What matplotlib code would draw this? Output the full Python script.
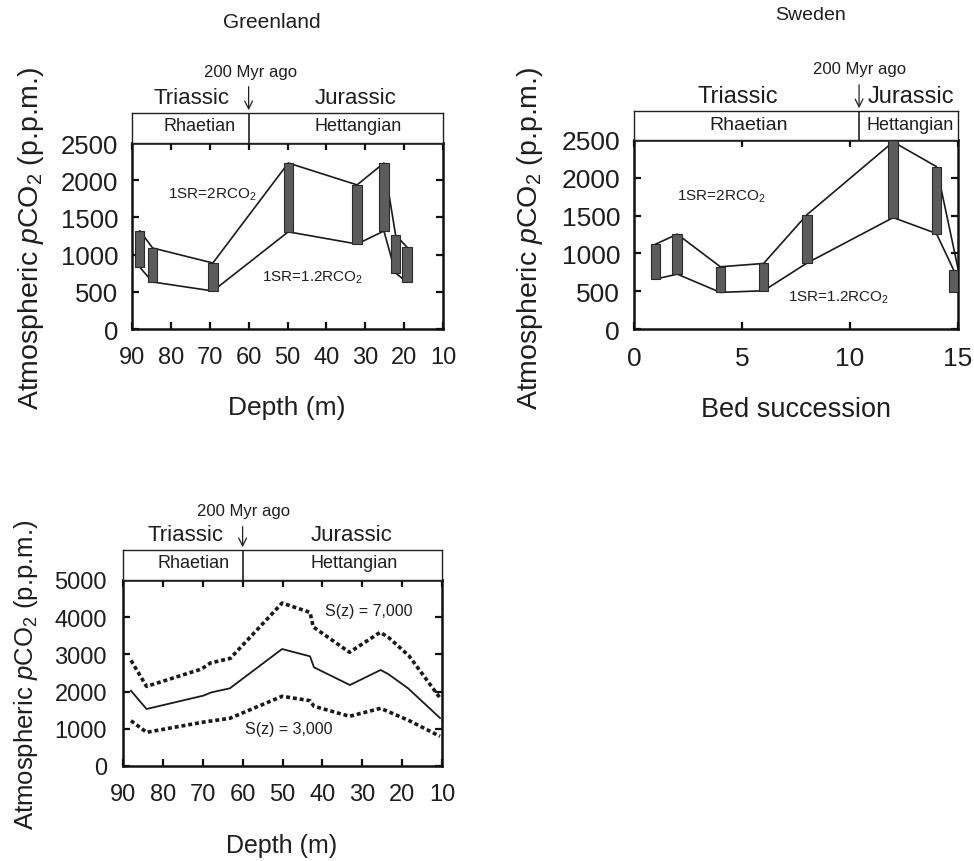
import matplotlib
matplotlib.use("Agg")
import matplotlib.pyplot as plt

plt.rcParams['font.family'] = ['Liberation Sans', 'DejaVu Sans']
plt.rcParams['mathtext.fontset'] = 'custom'
plt.rcParams['mathtext.rm'] = 'Liberation Sans'
plt.rcParams['mathtext.it'] = 'Liberation Sans:italic'

# ---------------- data ----------------
# Greenland: bars (range of pCO2 estimates) at depth
gl_x = [88, 84.7, 69.2, 49.8, 32.1, 25.2, 22.2, 19.3]
gl_top = [1320, 1089, 887, 2231, 1937, 2231, 1263, 1102]
gl_bot = [830, 632, 511, 1306, 1142, 1317, 753, 632]

# Sweden: bars at bed succession
sw_x = [1, 2, 4, 6, 8, 12, 14, 14.8]
sw_top = [1122, 1254, 823, 867, 1510, 2500, 2148, 780]
sw_bot = [660, 726, 484, 506, 871, 1474, 1263, 489]
sw_upper_x = [1, 2, 4, 6, 8, 12, 14, 15]
sw_upper_y = [1122, 1254, 823, 867, 1510, 2475, 2148, 800]
sw_lower_x = [1, 2, 4, 6, 8, 12, 14, 14.8]
sw_lower_y = [660, 726, 484, 506, 871, 1474, 1263, 780]

# Greenland model curves
mid_x = [88, 84.1, 69.9, 67.8, 63.2, 50.1, 43.1, 42.1, 33.1, 25.4, 23.5, 18.5, 10.5]
mid_y = [2024, 1532, 1890, 1980, 2088, 3145, 2948, 2652, 2177, 2581, 2473, 2088, 1290]
hi_x = [88, 84.1, 70.3, 68.1, 63.1, 50.1, 43.1, 42.3, 33.2, 25.5, 23.4, 18.3, 10.5]
hi_y = [2840, 2140, 2607, 2768, 2893, 4380, 4130, 3740, 3056, 3594, 3455, 2964, 1830]
lo_x = [88, 84.1, 69.9, 63.2, 50.1, 43.1, 42.1, 33.2, 25.4, 23.5, 18.3, 10.5]
lo_y = [1218, 906, 1179, 1282, 1874, 1756, 1605, 1336, 1551, 1464, 1223, 798]

depth_ticks = [90, 80, 70, 60, 50, 40, 30, 20, 10]
bed_ticks = [0, 5, 10, 15]

# ---------------- layout helpers ----------------
W, H = 974, 862
fig = plt.figure(figsize=(W / 100, H / 100), dpi=100)


def box(l, t, r, b):
    return [l / W, 1 - b / H, (r - l) / W, (b - t) / H]


TXT = '#1e1e1e'
BAR = '#5c5c5c'


def style_main(ax, xs, ys, xl, yl, xsize, ysize, ypad):
    ax.set_xlim(*xl)
    ax.set_ylim(*yl)
    ax.set_xticks(xs)
    ax.set_yticks(ys)
    for s in ax.spines.values():
        s.set_linewidth(1.8)
        s.set_color('#111')
    ax.tick_params(direction='in', top=True, right=True, length=5, width=1.6,
                   colors='#111')
    ax.tick_params(axis='x', labelsize=xsize, pad=12, labelcolor=TXT)
    ax.tick_params(axis='y', labelsize=ysize, pad=ypad, labelcolor=TXT)


def header(rect, xl, split, periods, stages, arrow_x, ty, sy, my, ay,
           psize, ssizes, msize):
    hx = fig.add_axes(rect)
    hx.set_xlim(*xl)
    hx.set_ylim(0, 1)
    hx.set_xticks([])
    hx.set_yticks([])
    for s in hx.spines.values():
        s.set_linewidth(1.0)
        s.set_color('#222')
    hx.axvline(split, color='#222', lw=1.2)
    for (lab, x) in periods:
        hx.text(x, ty, lab, ha='center', va='center', fontsize=psize,
                color=TXT, clip_on=False)
    for (lab, x), fs in zip(stages, ssizes):
        hx.text(x, sy, lab, ha='center', va='center', fontsize=fs, color=TXT)
    hx.text(arrow_x, my, '200 Myr ago', ha='center', va='center',
            fontsize=msize, color=TXT, clip_on=False)
    hx.annotate('', xy=(split, 1.0), xytext=(split, ay),
                arrowprops=dict(arrowstyle='->', lw=0.9, color='#222',
                                mutation_scale=14),
                annotation_clip=False)
    return hx


def pxtext(x, y, s, size, rot=0):
    fig.text(x / W, 1 - y / H, s, ha='center', va='center', fontsize=size,
             rotation=rot, color=TXT)


YLAB = 'Atmospheric $p$CO$_2$ (p.p.m.)'

# ---------------- Panel 1: Greenland ----------------
ax1 = fig.add_axes(box(132, 144, 443, 330))
ax1.plot(gl_x, gl_top, color='#1a1a1a', lw=1.2, zorder=2)
ax1.plot(gl_x, gl_bot, color='#1a1a1a', lw=1.2, zorder=2)
ax1.bar(gl_x, [t - b for t, b in zip(gl_top, gl_bot)], bottom=gl_bot,
        width=2.4, color=BAR, edgecolor='#2a2a2a', lw=0.8, zorder=3)
style_main(ax1, depth_ticks, range(0, 2501, 500), (90, 10), (0, 2500),
           17, 18.5, 10)
ax1.text(80.7, 1815, '1SR=2RCO$_2$', fontsize=11, color=TXT, va='center')
ax1.text(56.6, 699, '1SR=1.2RCO$_2$', fontsize=11, color=TXT, va='center')
header(box(132, 114, 443, 144), (90, 10), 60,
       [('Triassic', 74.8), ('Jurassic', 32.4)],
       [('Rhaetian', 72.5), ('Hettangian', 31.9)],
       59.6, 1.5, 0.57, 2.37, 1.97, 16, [13, 13], 12)
pxtext(272, 23, 'Greenland', 15)
pxtext(287, 408, 'Depth (m)', 19)
pxtext(31, 238, YLAB, 20.5, rot=90)

# ---------------- Panel 2: Sweden ----------------
ax2 = fig.add_axes(box(634, 141, 958, 330))
ax2.plot(sw_upper_x, sw_upper_y, color='#1a1a1a', lw=1.2, zorder=2,
         clip_on=False)
ax2.plot(sw_lower_x, sw_lower_y, color='#1a1a1a', lw=1.2, zorder=2)
ax2.bar(sw_x, [t - b for t, b in zip(sw_top, sw_bot)], bottom=sw_bot,
        width=0.45, color=BAR, edgecolor='#2a2a2a', lw=0.8, zorder=3)
style_main(ax2, bed_ticks, range(0, 2501, 500), (0, 15), (0, 2500),
           19, 19, 10)
ax2.text(2.0, 1759, '1SR=2RCO$_2$', fontsize=11, color=TXT, va='center')
ax2.text(7.13, 423, '1SR=1.2RCO$_2$', fontsize=11, color=TXT, va='center')
header(box(634, 112, 958, 141), (0, 15), 10.42,
       [('Triassic', 4.81), ('Jurassic', 12.82)],
       [('Rhaetian', 5.32), ('Hettangian', 12.78)],
       10.46, 1.52, 0.55, 2.45, 2.0, 17, [14, 13], 12)
pxtext(810, 15, 'Sweden', 14)
pxtext(796, 410, 'Bed succession', 19.5)
pxtext(530, 238, YLAB, 20.5, rot=90)

# ---------------- Panel 3: model curves ----------------
ax3 = fig.add_axes(box(123, 581, 442, 767))
ax3.plot(mid_x, mid_y, color='#1a1a1a', lw=1.3)
ax3.plot(hi_x, hi_y, color='#1a1a1a', lw=2.6, linestyle=(0, (1.1, 0.8)))
ax3.plot(lo_x, lo_y, color='#1a1a1a', lw=2.6, linestyle=(0, (1.1, 0.8)))
style_main(ax3, depth_ticks, range(0, 5001, 1000), (90, 10), (0, 5000),
           17, 17, 11.5)
ax3.text(39.3, 4167, 'S(z) = 7,000', fontsize=11.5, color=TXT, va='center')
ax3.text(59.4, 995, 'S(z) = 3,000', fontsize=11.5, color=TXT, va='center')
header(box(123, 551, 442, 581), (90, 10), 60,
       [('Triassic', 74.2), ('Jurassic', 32.6)],
       [('Rhaetian', 72.4), ('Hettangian', 32.1)],
       59.7, 1.53, 0.57, 2.33, 1.87, 16, [13, 13], 12)
pxtext(282, 846, 'Depth (m)', 18)
pxtext(26, 675, YLAB, 18.5, rot=90)

fig.savefig('out.png', dpi=100, facecolor='white')
